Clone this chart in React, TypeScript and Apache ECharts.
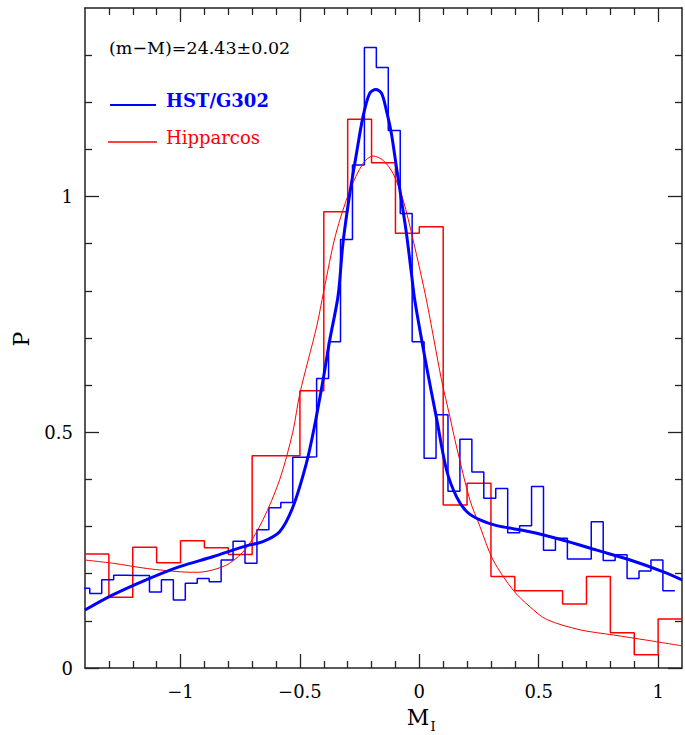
import React, { useEffect, useRef } from "react";
import * as echarts from "echarts";

// Histogram of HST/G302 (bin width 0.05, first bin starts at -1.43)
const blueBinStart = -1.43;
const blueBinWidth = 0.05;
const blueHist = [
  0.169, 0.158, 0.187, 0.197, 0.196, 0.196, 0.161, 0.187, 0.144, 0.18,
  0.19, 0.183, 0.229, 0.269, 0.222, 0.293, 0.34, 0.351, 0.447, 0.448,
  0.614, 0.692, 0.909, 1.067, 1.316, 1.274, 1.14, 0.964, 0.692, 0.445,
  0.537, 0.375, 0.485, 0.416, 0.36, 0.381, 0.287, 0.302, 0.385, 0.25,
  0.275, 0.231, 0.231, 0.31, 0.228, 0.24, 0.19, 0.206, 0.229, 0.164,
];

// Histogram of Hipparcos (bin width 0.1, first bin starts at -1.4)
const redBinStart = -1.4;
const redBinWidth = 0.1;
const redHist = [
  0.242, 0.15, 0.256, 0.223, 0.27, 0.255, 0.241, 0.45, 0.45, 0.588,
  0.968, 1.164, 1.072, 0.922, 0.936, 0.346, 0.392, 0.194, 0.164, 0.164,
  0.136, 0.194, 0.075, 0.028, 0.104,
];

// Fitted smooth curves
const blueFit: [number, number][] = [
  [-1.4, 0.123], [-1.284, 0.155], [-1.144, 0.187], [-1.004, 0.215],
  [-0.865, 0.236], [-0.725, 0.259], [-0.655, 0.268], [-0.585, 0.289],
  [-0.529, 0.342], [-0.473, 0.434], [-0.44, 0.51], [-0.4, 0.62],
  [-0.375, 0.696], [-0.34, 0.79], [-0.32, 0.9], [-0.291, 1.007],
  [-0.263, 1.092], [-0.236, 1.169], [-0.208, 1.219], [-0.182, 1.227],
  [-0.158, 1.219], [-0.138, 1.183], [-0.117, 1.134], [-0.096, 1.063],
  [-0.075, 0.993], [-0.054, 0.922], [-0.033, 0.837], [-0.019, 0.78],
  [0.03, 0.64], [0.072, 0.53], [0.114, 0.42], [0.156, 0.363],
  [0.198, 0.332], [0.254, 0.314], [0.324, 0.302], [0.463, 0.289],
  [0.603, 0.271], [0.743, 0.25], [0.883, 0.229], [1.022, 0.204],
  [1.1, 0.187],
];

const redFit: [number, number][] = [
  [-1.4, 0.229], [-1.28, 0.222], [-1.14, 0.211], [-1.0, 0.204],
  [-0.93, 0.203], [-0.865, 0.208], [-0.795, 0.222], [-0.725, 0.254],
  [-0.655, 0.314], [-0.585, 0.399], [-0.53, 0.5], [-0.5, 0.583],
  [-0.43, 0.724], [-0.4, 0.8], [-0.35, 0.92], [-0.29, 1.014],
  [-0.236, 1.07], [-0.194, 1.086], [-0.152, 1.077], [-0.11, 1.049],
  [-0.068, 0.993], [-0.026, 0.908], [0.03, 0.78], [0.093, 0.611],
  [0.128, 0.533], [0.156, 0.469], [0.212, 0.356], [0.254, 0.3],
  [0.309, 0.229], [0.393, 0.165], [0.463, 0.13], [0.533, 0.103],
  [0.673, 0.081], [0.813, 0.07], [0.953, 0.059], [1.1, 0.047],
];

const xMajorTicks = [-1, -0.5, 0, 0.5, 1];
const xMinorTicks = [
  -1.3, -1.2, -1.1, -0.9, -0.8, -0.7, -0.6, -0.4, -0.3, -0.2, -0.1,
  0.1, 0.2, 0.3, 0.4, 0.6, 0.7, 0.8, 0.9,
];
const yMajorTicks = [0, 0.5, 1];
const yMinorTicks = [0.1, 0.2, 0.3, 0.4, 0.6, 0.7, 0.8, 0.9, 1.1, 1.2, 1.3];

const legendTitle = "(m\u2212M)=24.43\u00b10.02";
const seriesNames = ["HST/G302", "Hipparcos"];

function stepData(start: number, width: number, values: number[]) {
  const pts: [number, number][] = [];
  values.forEach((v, i) => {
    const a = +(start + i * width).toFixed(4);
    const b = +(start + (i + 1) * width).toFixed(4);
    pts.push([a, v], [b, v]);
  });
  return pts;
}

const FONT = "DejaVu Serif";
const AXIS_COLOR = "#222";

function makeX(position: "top" | "bottom", major: boolean) {
  return {
    type: "value" as const,
    min: -1.4,
    max: 1.1,
    position,
    axisLine: { show: major, onZero: false, lineStyle: { color: AXIS_COLOR, width: 1.5 } },
    axisTick: {
      show: true,
      inside: true,
      length: major ? 14 : 7,
      customValues: major ? xMajorTicks : xMinorTicks,
      lineStyle: { color: AXIS_COLOR, width: 1.3 },
    },
    axisLabel: {
      show: major && position === "bottom",
      customValues: xMajorTicks,
      margin: 14,
      color: "#000",
      fontFamily: FONT,
      fontSize: 18,
      formatter: (v: number) => String(v).replace("-", "\u2212"),
    },
    splitLine: { show: false },
  };
}

function makeY(position: "left" | "right", major: boolean) {
  return {
    type: "value" as const,
    min: 0,
    max: 1.4,
    position,
    axisLine: { show: major, onZero: false, lineStyle: { color: AXIS_COLOR, width: 1.5 } },
    axisTick: {
      show: true,
      inside: true,
      length: major ? 14 : 7,
      customValues: major ? yMajorTicks : yMinorTicks,
      lineStyle: { color: AXIS_COLOR, width: 1.3 },
    },
    axisLabel: {
      show: major && position === "left",
      customValues: yMajorTicks,
      margin: 12,
      color: "#000",
      fontFamily: FONT,
      fontSize: 18,
    },
    splitLine: { show: false },
  };
}

export default function App() {
  const ref = useRef<HTMLDivElement>(null);
  useEffect(() => {
    if (!ref.current) return;
    const chart = echarts.init(ref.current, null, { renderer: "svg" });
    const option = {
      animation: false,
      backgroundColor: "#fff",
      grid: { left: 85, right: 3, top: 8, bottom: 67 },
      xAxis: [makeX("bottom", true), makeX("bottom", false), makeX("top", true), makeX("top", false)],
      yAxis: [makeY("left", true), makeY("left", false), makeY("right", true), makeY("right", false)],
      series: [
        {
          name: seriesNames[1] + " hist",
          type: "line",
          data: stepData(redBinStart, redBinWidth, redHist),
          showSymbol: false,
          clip: true,
          lineStyle: { color: "#ff0000", width: 1.5 },
          z: 2,
        },
        {
          name: seriesNames[0] + " hist",
          type: "line",
          data: stepData(blueBinStart, blueBinWidth, blueHist),
          showSymbol: false,
          clip: true,
          lineStyle: { color: "#0000ff", width: 1.5 },
          z: 3,
        },
        {
          name: seriesNames[1],
          type: "line",
          data: redFit,
          smooth: 0.3,
          showSymbol: false,
          clip: true,
          lineStyle: { color: "#ff0000", width: 1 },
          z: 4,
        },
        {
          name: seriesNames[0],
          type: "line",
          data: blueFit,
          smooth: 0.3,
          showSymbol: false,
          clip: true,
          lineStyle: { color: "#0000ff", width: 3 },
          z: 5,
        },
      ],
      graphic: [
        {
          type: "text",
          x: 109,
          y: 48,
          style: { text: legendTitle, fill: "#000", font: `17.5px "${FONT}"`, verticalAlign: "middle" },
        },
        {
          type: "line",
          shape: { x1: 110, y1: 105, x2: 156, y2: 105 },
          style: { stroke: "#0000ff", lineWidth: 2 },
        },
        {
          type: "text",
          x: 166,
          y: 100,
          style: { text: seriesNames[0], fill: "#0000ff", font: `bold 18px "${FONT}"`, verticalAlign: "middle" },
        },
        {
          type: "line",
          shape: { x1: 108, y1: 142, x2: 157, y2: 142 },
          style: { stroke: "#ff0000", lineWidth: 1.5 },
        },
        {
          type: "text",
          x: 166,
          y: 137,
          style: { text: seriesNames[1], fill: "#ff0000", font: `18px "${FONT}"`, verticalAlign: "middle" },
        },
        {
          type: "text",
          x: 21,
          y: 339,
          rotation: Math.PI / 2,
          style: {
            text: "P",
            fill: "#000",
            font: `22px "${FONT}"`,
            align: "center",
            verticalAlign: "middle",
          },
        },
        {
          type: "text",
          x: 418,
          y: 717,
          style: {
            text: "M",
            fill: "#000",
            font: `22px "${FONT}"`,
            align: "center",
            verticalAlign: "middle",
          },
        },
        {
          type: "text",
          x: 433,
          y: 726,
          style: {
            text: "I",
            fill: "#000",
            font: `13px "${FONT}"`,
            align: "center",
            verticalAlign: "middle",
          },
        },
      ],
    };
    chart.setOption(option as any);
    return () => chart.dispose();
  }, []);
  return (
    <div
      ref={ref}
      style={{ position: "absolute", left: 0, top: 0, width: 685, height: 735 }}
    />
  );
}
